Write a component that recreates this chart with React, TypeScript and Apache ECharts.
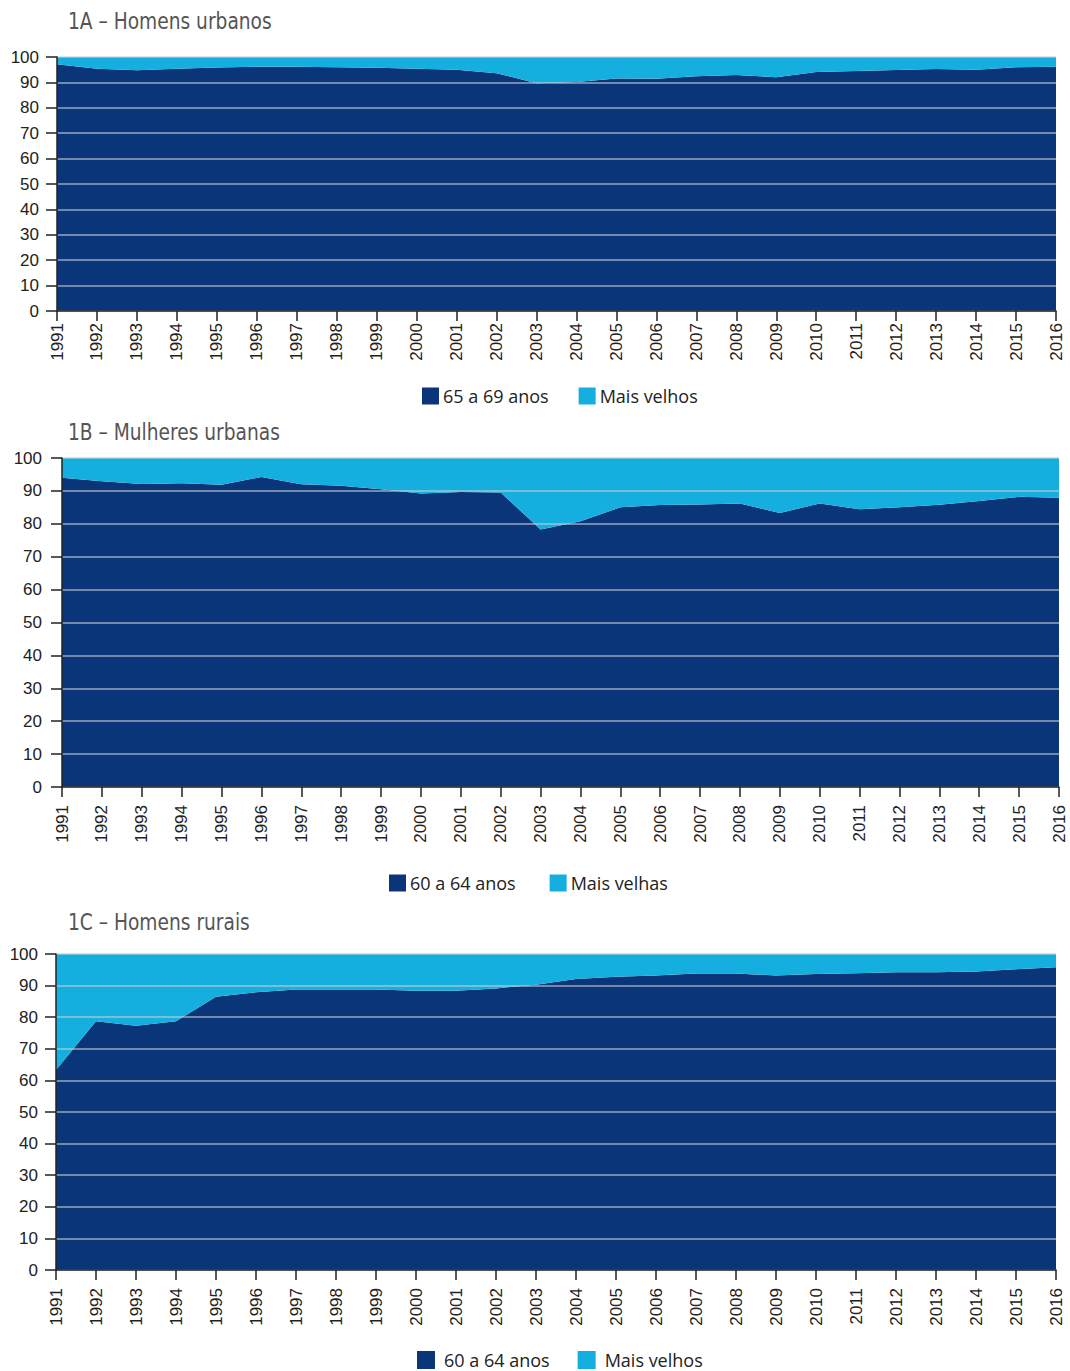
import React, { useEffect, useRef } from "react";
import * as echarts from "echarts";

const years = ["1991","1992","1993","1994","1995","1996","1997","1998","1999","2000","2001","2002","2003","2004","2005","2006","2007","2008","2009","2010","2011","2012","2013","2014","2015","2016"];

// 1A – Homens urbanos: share 65 a 69 anos
const urbanMen6569 = [97.1, 95.4, 94.8, 95.4, 95.9, 96.2, 96.2, 96.0, 95.8, 95.4, 95.0, 93.6, 89.7, 90.2, 91.5, 91.4, 92.4, 92.9, 92.0, 94.1, 94.5, 94.9, 95.3, 95.0, 96.0, 96.2];
// 1B – Mulheres urbanas: share 60 a 64 anos
const urbanWomen6064 = [94.0, 92.9, 92.1, 92.3, 91.9, 94.2, 92.0, 91.6, 90.5, 89.2, 89.7, 89.5, 78.3, 80.8, 85.0, 85.7, 85.9, 86.2, 83.3, 86.2, 84.4, 85.0, 85.8, 86.9, 88.2, 87.9];
// 1C – Homens rurais: share 60 a 64 anos
const ruralMen6064 = [63.3, 78.7, 77.3, 78.7, 86.5, 87.9, 88.8, 88.8, 88.8, 88.4, 88.4, 89.1, 90.3, 92.1, 92.8, 93.2, 93.8, 93.8, 93.2, 93.7, 93.9, 94.2, 94.2, 94.5, 95.2, 95.8];

const titles = ["1A – Homens urbanos", "1B – Mulheres urbanas", "1C – Homens rurais"];
const youngNames = ["65 a 69 anos", "60 a 64 anos", "60 a 64 anos"];
const olderNames = ["Mais velhos", "Mais velhas", "Mais velhos"];

const DARK = "#0a3579";
const LIGHT = "#14afdf";

export default function App() {
  const ref = useRef<HTMLDivElement>(null);
  useEffect(() => {
    if (!ref.current) return;
    const chart = echarts.init(ref.current, null, { renderer: "svg" });
    const datasets = [urbanMen6569, urbanWomen6064, ruralMen6064];
    const grids = [
      { left: 57, right: 14, top: 57, height: 254 },
      { left: 62, right: 11, top: 458, height: 329 },
      { left: 56, right: 14, top: 954, height: 316 },
    ];
    const yLabelMargins = [18, 20, 18];
    const xLabelMargins = [12, 18, 18];
    const titleCenters = [21, 432, 922];
    const legendPos = [
      { left: 422, top: 387, gap: 30, size: 17, textPad: 4 },
      { left: 389, top: 874, gap: 34, size: 17, textPad: 4 },
      { left: 417, top: 1351, gap: 28, size: 18, textPad: 9 },
    ];
    const axisFont = "'Liberation Sans', Arial, sans-serif";

    const option: any = {
      animation: false,
      backgroundColor: "#ffffff",
      graphic: titles.map((t, i) => ({
        type: "text",
        x: 68,
        y: titleCenters[i],
        scaleX: 0.9,
        style: {
          text: t,
          font: "normal 23px 'Liberation Sans Narrow', 'DejaVu Sans Condensed', sans-serif",
          fill: "#555555",
          textVerticalAlign: "middle",
          textAlign: "left",
        },
      })),
      legend: [0, 1, 2].map((i) => ({
        left: legendPos[i].left,
        top: legendPos[i].top,
        padding: 0,
        data: [youngNames[i], olderNames[i]],
        icon: "rect",
        itemWidth: legendPos[i].size,
        itemHeight: legendPos[i].size,
        itemGap: legendPos[i].gap,
        selectedMode: false,
        textStyle: {
          fontFamily: "'Open Sans', 'Noto Sans', sans-serif",
          fontSize: 18,
          color: "#222222",
          padding: [0, 0, 0, legendPos[i].textPad - 5],
        },
      })),
      grid: grids,
      xAxis: grids.map((_, i) => ({
        type: "category",
        gridIndex: i,
        data: years,
        boundaryGap: false,
        z: 4,
        axisLine: { show: true, lineStyle: { color: "#222222", width: 1.5 } },
        axisTick: { show: true, length: 10, lineStyle: { color: "#222222", width: 1.5 }, interval: 0 },
        axisLabel: {
          rotate: 90,
          interval: 0,
          margin: xLabelMargins[i],
          fontFamily: axisFont,
          fontSize: 17,
          color: "#222222",
        },
        splitLine: { show: false },
      })),
      yAxis: grids.map((_, i) => ({
        type: "value",
        gridIndex: i,
        min: 0,
        max: 100,
        interval: 10,
        z: 4,
        axisLine: { show: true, lineStyle: { color: "#222222", width: 1.5 } },
        axisTick: { show: true, length: 11, lineStyle: { color: "#222222", width: 1.5 } },
        axisLabel: {
          margin: yLabelMargins[i],
          fontFamily: axisFont,
          fontSize: 17,
          color: "#222222",
        },
        splitLine: { show: true, lineStyle: { color: "rgba(200,205,215,0.75)", width: 1.5 } },
      })),
      series: datasets.flatMap((vals, i) => [
        {
          name: youngNames[i],
          type: "line",
          xAxisIndex: i,
          yAxisIndex: i,
          stack: "s" + i,
          data: vals,
          showSymbol: false,
          lineStyle: { width: 0 },
          itemStyle: { color: DARK },
          areaStyle: { color: DARK, opacity: 1 },
          z: 2,
        },
        {
          name: olderNames[i],
          type: "line",
          xAxisIndex: i,
          yAxisIndex: i,
          stack: "s" + i,
          data: vals.map((v) => +(100 - v).toFixed(2)),
          showSymbol: false,
          lineStyle: { width: 0 },
          itemStyle: { color: LIGHT },
          areaStyle: { color: LIGHT, opacity: 1 },
          z: 2,
        },
      ]),
    };
    chart.setOption(option);
    return () => chart.dispose();
  }, []);
  return (
    <div
      ref={ref}
      style={{ position: "absolute", left: 0, top: 0, width: 1070, height: 1371 }}
    />
  );
}
